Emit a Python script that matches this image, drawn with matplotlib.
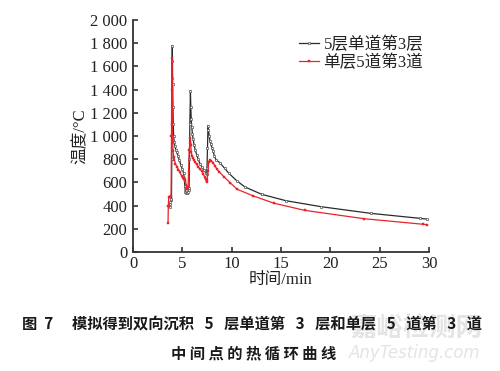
import matplotlib
matplotlib.use("Agg")
import matplotlib.pyplot as plt
from matplotlib.ticker import FuncFormatter, MultipleLocator

plt.rcParams['font.family'] = ['Liberation Serif', 'Noto Sans CJK SC', 'DejaVu Sans']
plt.rcParams['mathtext.fontset'] = 'stix'

# 5层单道第3层 (black, open squares)
t_multi = [3.72, 3.76, 3.80, 3.85, 3.90, 3.93, 3.96, 3.98, 4.00, 4.02, 4.05, 4.08,
           4.12, 4.18, 4.25, 4.35, 4.45, 4.55, 4.70, 4.85, 5.00, 5.12, 5.20, 5.25,
           5.30, 5.36, 5.43, 5.50, 5.57, 5.64, 5.68, 5.72, 5.76, 5.82, 5.86, 5.90,
           5.95, 6.02, 6.10, 6.20, 6.30, 6.45, 6.60, 6.80, 7.00, 7.20, 7.35, 7.45,
           7.50, 7.55, 7.60, 7.65, 7.72, 7.80, 7.90, 8.00, 8.10, 8.25, 8.40, 8.80,
           9.30, 9.70, 10.50, 11.35, 13.05, 15.50, 19.10, 24.10, 29.10, 29.75]
T_multi = [390, 410, 430, 445, 455, 800, 1500, 1780, 1650, 1450, 1250, 1100,
           1000, 950, 910, 880, 860, 830, 790, 750, 715, 680, 640, 570,
           520, 505, 505, 510, 520, 535, 550, 800, 1100, 1390, 1250, 1150,
           1080, 1020, 970, 920, 880, 840, 800, 760, 730, 705, 685, 675,
           720, 900, 1090, 1050, 1000, 960, 930, 900, 870, 830, 795, 770,
           720, 680, 615, 560, 497, 442, 390, 333, 290, 284]

# 单层5道第3道 (red, filled)
t_single = [3.55, 3.58, 3.62, 3.70, 3.78, 3.86, 3.90, 3.93, 3.96, 3.99, 4.02, 4.06,
            4.12, 4.20, 4.30, 4.45, 4.60, 4.75, 4.93, 5.05, 5.15, 5.25, 5.32, 5.38,
            5.45, 5.52, 5.58, 5.64, 5.70, 5.76, 5.82, 5.86, 5.90, 5.97, 6.05, 6.15,
            6.30, 6.45, 6.60, 6.80, 7.00, 7.12, 7.25, 7.35, 7.45, 7.52, 7.60, 7.68,
            7.80, 7.95, 8.10, 8.30, 8.50, 8.75, 9.20, 9.83, 10.57, 12.20, 14.30,
            17.40, 23.40, 29.40, 29.75]
T_single = [253, 400, 470, 475, 478, 480, 1000, 1670, 1400, 1100, 950, 870,
            820, 790, 760, 735, 710, 690, 655, 640, 630, 620, 612, 580,
            540, 545, 560, 700, 880, 940, 985, 920, 860, 830, 810, 795,
            775, 755, 735, 715, 695, 675, 650, 625, 605, 620, 700, 780,
            790, 785, 770, 745, 715, 690, 650, 598, 540, 483, 420,
            359, 287, 239, 236]

label_multi = "5层单道第3层"
label_single = "单层5道第3道"
caption_1 = "图  7　 模拟得到双向沉积   5   层单道第   3   层和单层   5   道第   3   道"
caption_2 = "中 间 点 的 热 循 环 曲 线"

fig = plt.figure(figsize=(5, 3.71), dpi=100)
ax = fig.add_axes([0.266, 0.3208, 0.592, 0.6253])

ax.plot(t_multi, T_multi, color='#2a2a2a', lw=0.9, marker='s', ms=2.1,
        mfc='white', mec='#555555', mew=0.5, label=label_multi, zorder=2)
ax.plot(t_single, T_single, color='#e8232a', lw=0.9, marker='s', ms=2.0,
        mfc='#e8232a', mec='#e8232a', mew=0.3, label=label_single, zorder=3)

ax.set_xlim(0, 30)
ax.set_ylim(0, 2000)
ax.xaxis.set_major_locator(MultipleLocator(5))
ax.yaxis.set_major_locator(MultipleLocator(200))
ax.yaxis.set_major_formatter(FuncFormatter(lambda v, p: f"{int(v):,}".replace(",", " ")))

for s in ['top', 'right']:
    ax.spines[s].set_visible(False)
for s in ['left', 'bottom']:
    ax.spines[s].set_linewidth(1.3)
    ax.spines[s].set_color('#333333')

ax.tick_params(axis='both', direction='in', length=3.5, width=1.1,
               labelsize=12, colors='#222222', pad=3)
ax.tick_params(axis='y', pad=4)

ax.set_xlabel("时间/min", fontsize=12, labelpad=0, color='#222222')
ax.set_ylabel("温度/°C", fontsize=12, labelpad=1, color='#222222')

leg = ax.legend(loc='upper left', bbox_to_anchor=(0.562, 0.93), frameon=False,
                fontsize=12, handlelength=1.15, handletextpad=0.3,
                borderpad=0, borderaxespad=0, labelspacing=0.1, markerscale=1.0)
for txt in leg.get_texts():
    txt.set_color('#222222')

# watermark
fig.text(0.833, 0.116, "嘉峪检测网", fontsize=19, color='#e4e4e4',
         family=['Noto Sans CJK SC'], weight='bold', ha='center', va='center', zorder=0)
fig.text(0.83, 0.0485, "AnyTesting.com", fontsize=12, color='#e4e4e4',
         family=['DejaVu Sans'], style='italic', ha='center', va='center', zorder=0)

fig.text(0.505, 0.129, caption_1, fontsize=11, color='#1a1a1a', weight='bold',
         family=['Noto Sans CJK SC', 'DejaVu Sans'], ha='center', va='center', zorder=5)
fig.text(0.508, 0.0485, caption_2, fontsize=11, color='#1a1a1a', weight='bold',
         family=['Noto Sans CJK SC', 'DejaVu Sans'], ha='center', va='center', zorder=5)

fig.savefig("out.png", dpi=100)
